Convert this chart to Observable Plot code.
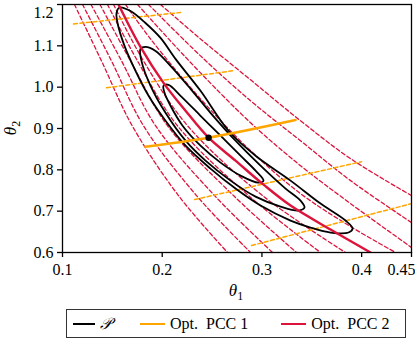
<!DOCTYPE html>
<html><head><meta charset="utf-8">
<script src="https://cdn.jsdelivr.net/npm/d3@7"></script>
<script src="https://cdn.jsdelivr.net/npm/@observablehq/plot@0.6"></script>
<style>
body{margin:0;background:#fff;font-family:"Liberation Serif",serif;}
#wrap{position:relative;width:415px;height:341px;overflow:hidden;}
#legend{position:absolute;left:66px;top:309px;width:340px;height:29px;border:1.3px solid #333;box-sizing:border-box;display:flex;align-items:center;font-size:16px;}
.it{display:flex;align-items:center;}
.it svg{margin-right:5px;}
</style></head><body>
<div id="wrap"><div id="chart"></div>
<div id="legend">
 <div class="it" style="margin-left:6px"><svg width="22" height="6"><line x1="0" y1="3" x2="22" y2="3" stroke="black" stroke-width="2"/></svg><span style="font-style:italic">𝒫</span></div>
 <div class="it" style="margin-left:28px"><svg width="25" height="6"><line x1="0" y1="3" x2="25" y2="3" stroke="#FFA500" stroke-width="2"/></svg><span>Opt.&nbsp; PCC 1</span></div>
 <div class="it" style="margin-left:33px"><svg width="25" height="6"><line x1="0" y1="3" x2="25" y2="3" stroke="#DC143C" stroke-width="2"/></svg><span>Opt.&nbsp; PCC 2</span></div>
</div></div>
<script>
const xTicks = [0.1, 0.2, 0.3, 0.4, 0.45];
const yTicks = [0.6, 0.7, 0.8, 0.9, 1.0, 1.1, 1.2];
const mapPoint = [0.2465, 0.8777];

// posterior contours [theta1, theta2]
const contourOuter = [[0.1572,1.1928],[0.1682,1.1843],[0.1832,1.1553],[0.1983,1.1191],[0.2133,1.0684],[0.2384,0.9912],[0.2665,0.8946],[0.2936,0.8342],[0.3287,0.7739],[0.3588,0.7183],[0.3838,0.6773],[0.3909,0.6580],[0.3869,0.6483],[0.3688,0.6483],[0.3487,0.6604],[0.3287,0.6773],[0.2986,0.7135],[0.2735,0.7546],[0.2484,0.8029],[0.2234,0.8584],[0.2033,0.9187],[0.1863,0.9791],[0.1732,1.0395],[0.1622,1.0998],[0.1552,1.1553],[0.1542,1.1795]];
const contourMiddle = [[0.1782,1.0926],[0.1832,1.0974],[0.1933,1.0877],[0.2083,1.0515],[0.2284,0.9960],[0.2484,0.9380],[0.2735,0.8705],[0.2986,0.8101],[0.3237,0.7546],[0.3387,0.7256],[0.3427,0.7087],[0.3367,0.7015],[0.3187,0.7111],[0.2936,0.7352],[0.2685,0.7739],[0.2434,0.8222],[0.2234,0.8705],[0.2033,0.9380],[0.1883,1.0032],[0.1792,1.0636]];
const contourInner = [[0.2013,1.0032],[0.2063,1.0056],[0.2184,0.9791],[0.2384,0.9308],[0.2585,0.8825],[0.2785,0.8342],[0.2936,0.7980],[0.3016,0.7739],[0.2966,0.7691],[0.2785,0.7860],[0.2585,0.8174],[0.2384,0.8584],[0.2204,0.9067],[0.2083,0.9550],[0.2023,0.9863]];

// Opt. PCC 2 level curves
const pcc2Solid = [[0.1562,1.2],[0.1782,1.0974],[0.2013,1.0105],[0.2234,0.9429],[0.2465,0.8777],[0.2735,0.8222],[0.3016,0.7642],[0.3287,0.7135],[0.3688,0.6556],[0.4089,0.6]];
const pcc2Levels = [1.2, 1.0636, 0.9067, 0.7377, 0.6];
const pcc2LeftTheta1 = [
 [0.1120, 0.1391, 0.1699, 0.2163, 0.2655],
 [0.1201, 0.1491, 0.1812, 0.2344, 0.2886],
 [0.1286, 0.1592, 0.1933, 0.2525, 0.3106],
 [0.1376, 0.1682, 0.2053, 0.2715, 0.3347],
 [0.1451, 0.1752, 0.2153, 0.2866, 0.3588],
 [0.1512, 0.1812, 0.2254, 0.3006, 0.3838]
];
const pcc2Right = [
 [[0.1632,1.2],[0.1883,1.1167],[0.2384,0.9718],[0.2886,0.8463],[0.3387,0.7425],[0.3889,0.6628],[0.4340,0.6]],
 [[0.1752,1.2],[0.2083,1.1119],[0.2384,1.0346],[0.2886,0.9139],[0.3387,0.8101],[0.3889,0.7183],[0.45,0.6121]],
 [[0.1863,1.2],[0.2384,1.0757],[0.2886,0.9670],[0.3387,0.8704],[0.3889,0.7739],[0.45,0.6725]],
 [[0.1983,1.2],[0.2384,1.1167],[0.2886,1.0177],[0.3387,0.9187],[0.3889,0.8270],[0.45,0.7377]]
];
// Opt. PCC 1 level curves
const pcc1Solid = [[0.1832,0.8560],[0.2465,0.8777],[0.3337,0.9204]];
const pcc1Dashed = [
 [[0.1110,1.1529],[0.2184,1.1807]],
 [[0.1441,0.9984],[0.2705,1.0395]],
 [[0.2324,0.7280],[0.3999,0.8197]],
 [[0.2896,0.6169],[0.45,0.7183]]
];

const pcc2Dashed = [...pcc2LeftTheta1.map(row => row.map((t, j) => [t, pcc2Levels[j]])), ...pcc2Right];

const RED = "#DC143C", ORANGE = "#FFA500";
const flat = (arr) => arr.flatMap((c, i) => c.map(p => ({x: p[0], y: p[1], k: i})));
const dashStyle = {strokeWidth: 1.3, strokeDasharray: "4,2.5", clip: true, curve: "catmull-rom"};

const plot = Plot.plot({
  width: 415, height: 306,
  marginLeft: 62, marginRight: 4, marginTop: 4, marginBottom: 54,
  style: {fontFamily: "Liberation Serif, serif", fontSize: "16px", color: "black", background: "white", overflow: "visible"},
  x: {domain: [0.1, 0.45]},
  y: {domain: [0.6, 1.2]},
  marks: [
    Plot.line(flat(pcc2Dashed), {x: "x", y: "y", z: "k", stroke: RED, ...dashStyle}),
    Plot.line(flat(pcc1Dashed), {x: "x", y: "y", z: "k", stroke: ORANGE, ...dashStyle, strokeWidth: 1.5}),
    Plot.line(flat([contourOuter, contourMiddle, contourInner]), {x: "x", y: "y", z: "k", stroke: "black", strokeWidth: 1.8, curve: "catmull-rom-closed", clip: true}),
    Plot.line(flat([pcc2Solid]), {x: "x", y: "y", stroke: RED, strokeWidth: 2.4, curve: "catmull-rom", clip: true}),
    Plot.line(flat([pcc1Solid]), {x: "x", y: "y", stroke: ORANGE, strokeWidth: 2.6, curve: "catmull-rom", clip: true}),
    Plot.dot([mapPoint], {x: d => d[0], y: d => d[1], r: 3.2, fill: "black"}),
    Plot.frame({stroke: "black", strokeWidth: 1.3}),
    Plot.axisX({ticks: xTicks, tickSize: 5, tickPadding: 6, tickFormat: d => String(d), label: null, strokeWidth: 1.3}),
    Plot.axisY({ticks: yTicks, tickSize: 5, tickPadding: 4, tickFormat: d3.format(".1f"), label: null, strokeWidth: 1.3})
  ]
});
document.getElementById("chart").appendChild(plot);
const svg = d3.select(plot);
svg.selectAll("g[aria-label='x-axis tick label'] text").each(function() {
  if (this.textContent === "0.45") d3.select(this).attr("text-anchor", "end").attr("dx", 4);
});
svg.selectAll("g[aria-label='y-axis tick label'] text").each(function() {
  if (this.textContent === "1.2") d3.select(this).attr("dy", "0.55em");
});
const xl = svg.append("text").attr("x", 236).attr("y", 296).attr("text-anchor", "middle").attr("font-size", 17).attr("font-family", "Liberation Serif, serif");
xl.append("tspan").attr("font-style", "italic").text("θ");
xl.append("tspan").attr("font-size", 12).attr("dy", 4).text("1");
const yl = svg.append("text").attr("transform", "translate(16,128) rotate(-90)").attr("text-anchor", "middle").attr("font-size", 17).attr("font-family", "Liberation Serif, serif");
yl.append("tspan").attr("font-style", "italic").text("θ");
yl.append("tspan").attr("font-size", 12).attr("dy", 4).text("2");
</script></body></html>
